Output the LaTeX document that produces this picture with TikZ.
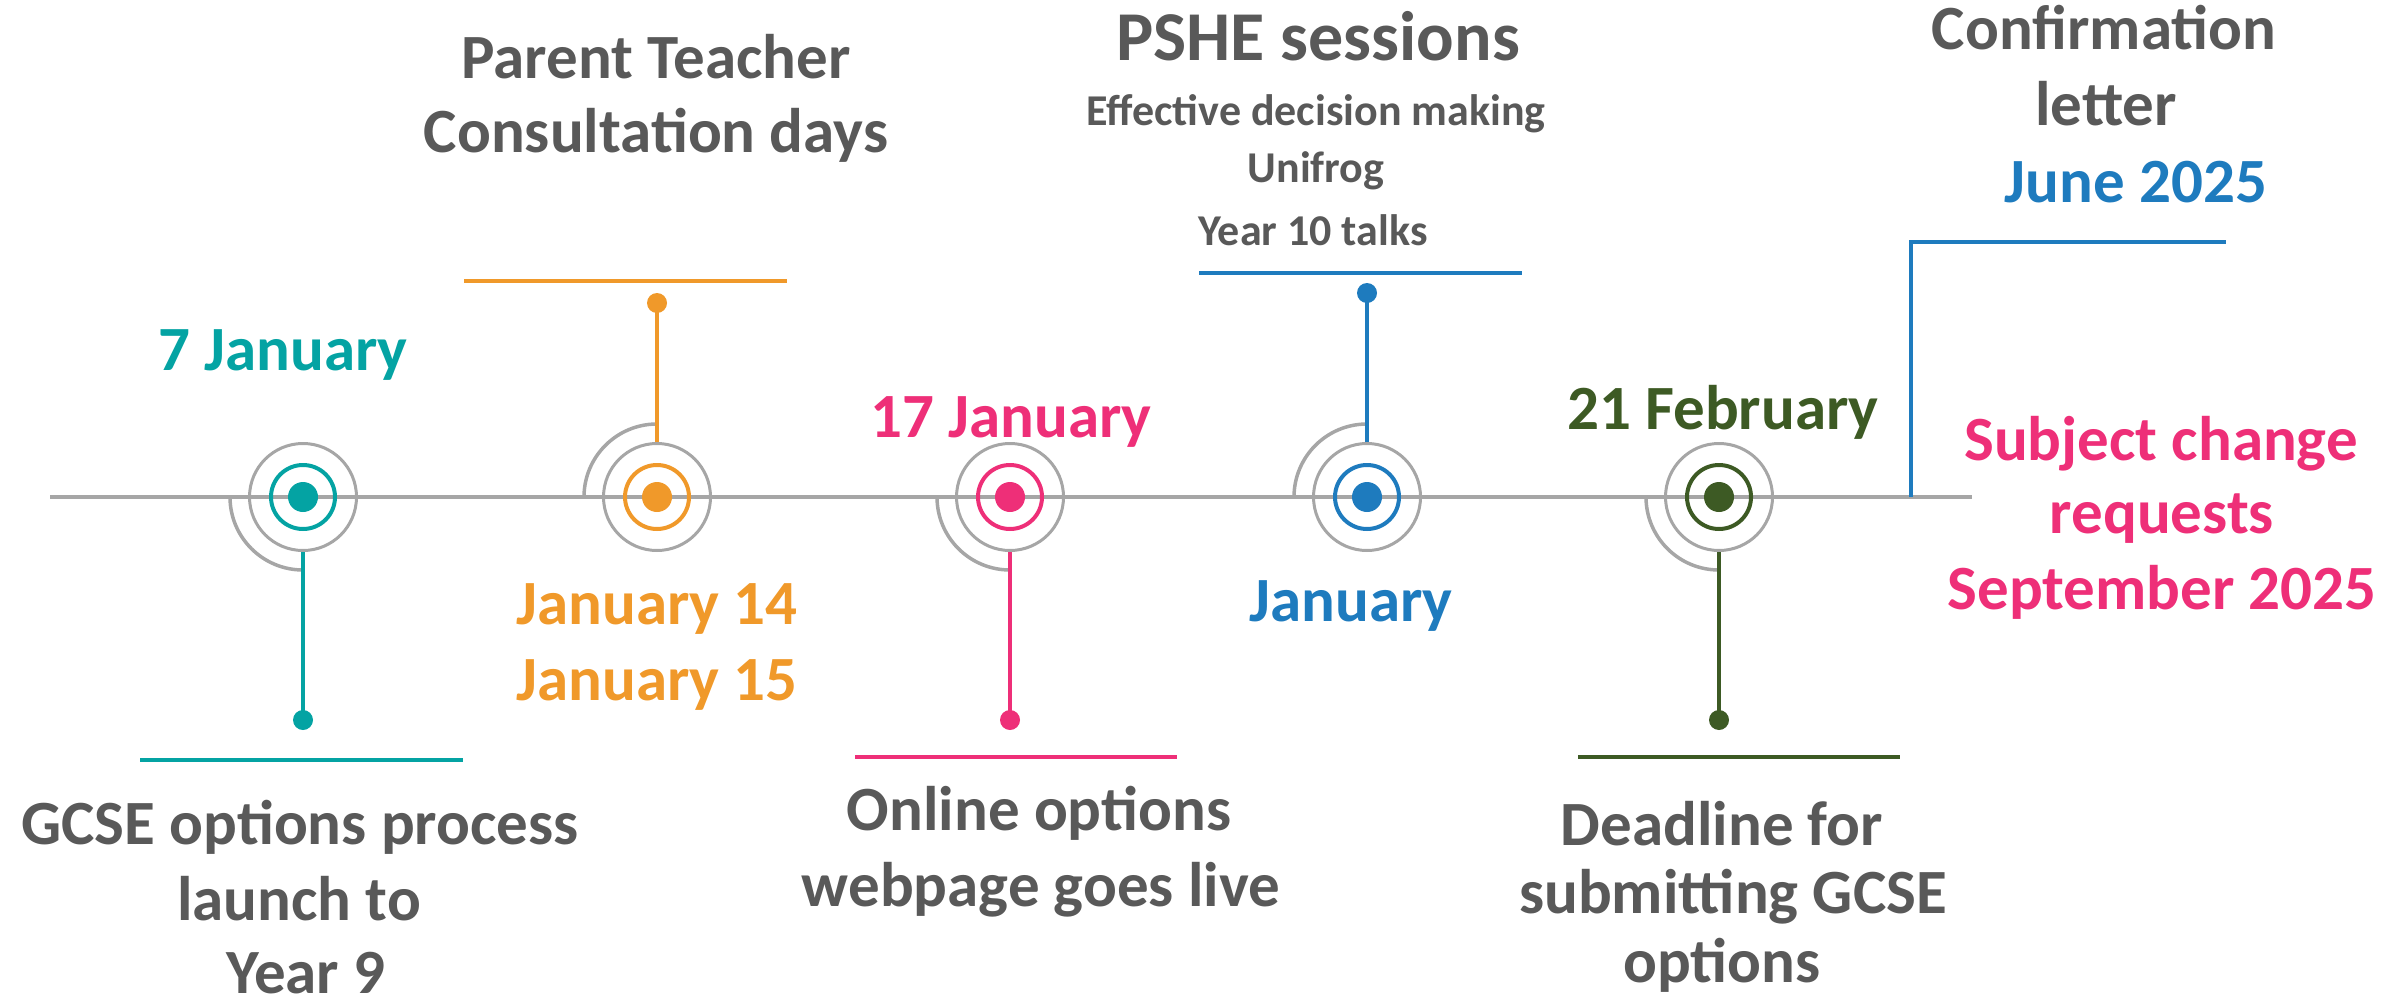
\documentclass[tikz,border=0pt]{standalone}
\usepackage{fontspec}
\setmainfont{Carlito}
\definecolor{cteal}{HTML}{04A3A3}
\definecolor{corange}{HTML}{F0992A}
\definecolor{cpink}{HTML}{EE2F78}
\definecolor{cblue}{HTML}{1E7BBE}
\definecolor{cgreen}{HTML}{3D5A24}
\definecolor{txtgray}{HTML}{595959}
\definecolor{lngray}{HTML}{A6A6A6}
\tikzset{
  lbl/.style={font=\bfseries\fontsize{63}{76}\selectfont, inner sep=0pt, anchor=base, text=txtgray},
  head/.style={font=\bfseries\fontsize{70}{84}\selectfont, inner sep=0pt, anchor=base, text=txtgray},
  sub/.style={font=\bfseries\fontsize{44}{54}\selectfont, inner sep=0pt, anchor=base, text=txtgray},
  outer/.style={circle, draw=lngray, line width=3pt, minimum size=107pt, inner sep=0pt},
  ring/.style={circle, draw=#1, line width=4pt, minimum size=64pt, inner sep=0pt},
  hub/.style={circle, fill=#1, minimum size=30pt, inner sep=0pt},
  pin/.style={circle, fill=#1, minimum size=20pt, inner sep=0pt},
  bar/.style={draw=#1, line width=4.5pt},
  stem/.style={draw=#1, line width=4pt},
  arcline/.style={draw=lngray, line width=3.5pt},
}
\begin{document}
\begin{tikzpicture}[x=1pt, y=-1pt]
\useasboundingbox (0,0) rectangle (2387,1006);
% timeline
\coordinate (tl) at (50,497);
\coordinate (tr) at (1972,497);
\draw[lngray, line width=3.3pt] (tl) -- (tr);
% event centres
\coordinate (e1) at (303,497);
\coordinate (e2) at (657,497);
\coordinate (e3) at (1010,497);
\coordinate (e4) at (1367,497);
\coordinate (e5) at (1719,497);
% arcs
\draw[arcline] (e1) ++(-73,0) arc[start angle=180, end angle=90, radius=73];
\draw[arcline] (e2) ++(-73,0) arc[start angle=180, end angle=270, radius=73];
\draw[arcline] (e3) ++(-73,0) arc[start angle=180, end angle=90, radius=73];
\draw[arcline] (e4) ++(-73,0) arc[start angle=180, end angle=270, radius=73];
\draw[arcline] (e5) ++(-73,0) arc[start angle=180, end angle=90, radius=73];
% circles
\foreach \i/\c in {1/cteal,2/corange,3/cpink,4/cblue,5/cgreen}{
  \node[outer] (o\i) at (e\i) {};
  \node[ring=\c] (r\i) at (e\i) {};
  \node[hub=\c] (h\i) at (e\i) {};
}
% pins
\node[pin=cteal] (p1) at (303,720) {};
\node[pin=corange] (p2) at (657,303) {};
\node[pin=cpink] (p3) at (1010,720) {};
\node[pin=cblue] (p4) at (1367,293) {};
\node[pin=cgreen] (p5) at (1719,720) {};
% stems
\draw[stem=cteal] (o1.south) -- (p1.center);
\draw[stem=corange] (o2.north) -- (p2.center);
\draw[stem=cpink] (o3.south) -- (p3.center);
\draw[stem=cblue] (o4.north) -- (p4.center);
\draw[stem=cgreen] (o5.south) -- (p5.center);
% bars
\coordinate (b1l) at (140,760); \coordinate (b1r) at (463,760);
\coordinate (b2l) at (464,281); \coordinate (b2r) at (787,281);
\coordinate (b3l) at (855,757); \coordinate (b3r) at (1177,757);
\coordinate (b4l) at (1199,273); \coordinate (b4r) at (1522,273);
\coordinate (b5l) at (1578,757); \coordinate (b5r) at (1900,757);
\draw[bar=cteal] (b1l) -- (b1r);
\draw[bar=corange] (b2l) -- (b2r);
\draw[bar=cpink] (b3l) -- (b3r);
\draw[bar=cblue] (b4l) -- (b4r);
\draw[bar=cgreen] (b5l) -- (b5r);
% final bracket
\coordinate (f0) at (1911,497);
\coordinate (f1) at (1911,242);
\coordinate (f2) at (2226,242);
\draw[bar=cblue] (f0) -- (f1) -- (f2);
% texts
\node[lbl] (t2a) at (656,79) {Parent Teacher};
\node[lbl] (t2b) at (656,152) {Consultation days};
\node[head] (t4a) at (1318,61) {PSHE sessions};
\node[sub] (t4b) at (1316,125) {Effective decision making};
\node[sub] (t4c) at (1316,182) {Unifrog};
\node[sub] (t4d) at (1313,245) {Year 10 talks};
\node[lbl] (t6a) at (2104,50) {Confirmation};
\node[lbl] (t6b) at (2106,126) {letter};
\node[lbl, text=cblue] (t6c) at (2136,202) {June 2025};
\node[lbl, text=cteal] (d1) at (283,370) {7 January};
\node[lbl, text=cpink] (d3) at (1011,437) {17 January};
\node[lbl, text=cgreen] (d5) at (1723,429) {21 February};
\node[lbl, text=cpink] (t7a) at (2161,460) {Subject change};
\node[lbl, text=cpink] (t7b) at (2162,533) {requests};
\node[lbl, text=cpink] (t7c) at (2162,609) {September 2025};
\node[lbl, text=corange] (d2a) at (657,624) {January 14};
\node[lbl, text=corange] (d2b) at (657,700) {January 15};
\node[lbl, text=cblue] (d4) at (1351,621) {January};
\node[lbl] (t1a) at (300,844) {GCSE options process};
\node[lbl] (t1b) at (299,920) {launch to};
\node[lbl] (t1c) at (306,993) {Year 9};
\node[lbl] (t3a) at (1039,830) {Online options};
\node[lbl] (t3b) at (1041,906) {webpage goes live};
\node[lbl] (t5a) at (1722,845) {Deadline for};
\node[lbl] (t5b) at (1733,913) {submitting GCSE};
\node[lbl] (t5c) at (1722,982) {options};
\end{tikzpicture}
\end{document}
